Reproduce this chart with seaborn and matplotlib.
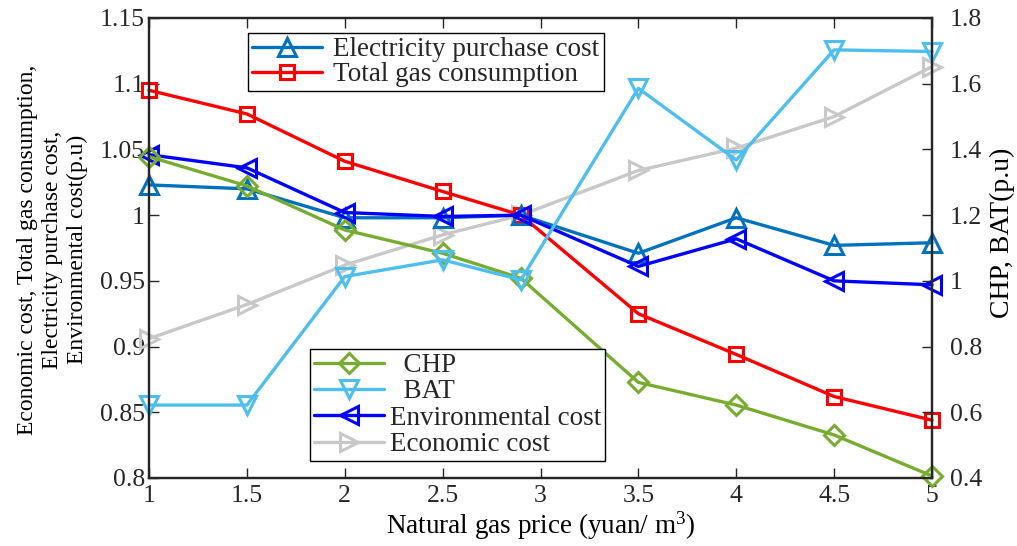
import numpy as np
import pandas as pd
import matplotlib
matplotlib.use("Agg")
import matplotlib.pyplot as plt
from matplotlib.ticker import FuncFormatter, FixedLocator
import seaborn as sns

# Natural gas price (yuan/m^3)
price = [1, 1.5, 2, 2.5, 2.9, 3.5, 4, 4.5, 5]

# Left-axis series (p.u)
electricity_cost = [1.023, 1.020, 0.998, 0.998, 1.000, 0.971, 0.998, 0.977, 0.979]
total_gas = [1.095, 1.077, 1.041, 1.018, 1.000, 0.925, 0.894, 0.862, 0.844]
environmental_cost = [1.046, 1.036, 1.002, 0.999, 1.000, 0.961, 0.982, 0.950, 0.947]
economic_cost = [0.906, 0.932, 0.962, 0.985, 1.000, 1.034, 1.051, 1.075, 1.113]

# Right-axis series (p.u)
chp = [1.378, 1.289, 1.155, 1.084, 1.008, 0.691, 0.622, 0.531, 0.406]
bat = [0.622, 0.622, 1.013, 1.064, 1.003, 1.586, 1.368, 1.703, 1.698]

x_ticks = [1, 1.5, 2, 2.5, 3, 3.5, 4, 4.5, 5]
left_ticks = [0.8, 0.85, 0.9, 0.95, 1.0, 1.05, 1.1, 1.15]
right_ticks = [0.4, 0.6, 0.8, 1.0, 1.2, 1.4, 1.6, 1.8]

sns.set_style("ticks")
plt.rcParams["font.family"] = ["Liberation Serif", "DejaVu Serif"]
plt.rcParams["mathtext.fontset"] = "custom"
plt.rcParams["mathtext.rm"] = "Liberation Serif"
plt.rcParams["mathtext.it"] = "Liberation Serif:italic"

TICK_FS = 18.5
LEG_FS = 19.5
INK = "#262626"

fig = plt.figure(figsize=(10.17, 5.46), dpi=100)
ax = fig.add_subplot(111)
fig.subplots_adjust(left=149 / 1017, right=932 / 1017, top=1 - 18 / 546, bottom=1 - 478 / 546)
ax2 = ax.twinx()


def draw(axis, values, color, marker, label, ms=12):
    return sns.lineplot(
        x=price, y=values, ax=axis, color=color, linewidth=2.4,
        marker=marker, markersize=ms, markerfacecolor="none",
        markeredgecolor=color, markeredgewidth=2.2, label=label,
        legend=False, clip_on=False,
    )


draw(ax, economic_cost, "#C8C8C8", ">", "Economic cost", ms=13)
draw(ax, total_gas, "#FF0000", "s", "Total gas consumption", ms=10)
draw(ax, electricity_cost, "#0072BD", "^", "Electricity purchase cost", ms=13)
draw(ax, environmental_cost, "#0000FF", "<", "Environmental cost", ms=13)
draw(ax2, chp, "#77AC30", "D", "CHP", ms=10.5)
draw(ax2, bat, "#4DBEEE", "v", "BAT", ms=13)

ax.set_xlim(1, 5)
ax.set_ylim(0.8, 1.15)
ax2.set_ylim(0.4, 1.8)

fmt = FuncFormatter(lambda v, p: f"{v:g}")
ax.xaxis.set_major_locator(FixedLocator(x_ticks))
ax.yaxis.set_major_locator(FixedLocator(left_ticks))
ax2.yaxis.set_major_locator(FixedLocator(right_ticks))
for a in (ax.xaxis, ax.yaxis, ax2.yaxis):
    a.set_major_formatter(fmt)

ax.tick_params(axis="x", direction="in", length=7, width=1, top=True,
               labelsize=TICK_FS, pad=5, colors=INK)
ax.tick_params(axis="y", direction="in", length=7, width=1,
               labelsize=TICK_FS, pad=3, colors=INK)
ax2.tick_params(axis="y", direction="in", length=7, width=1,
                labelsize=TICK_FS, pad=13, colors=INK)
for a in (ax, ax2):
    for s in a.spines.values():
        s.set_linewidth(1.6)
        s.set_color(INK)
        s.set_visible(True)

ax.set_xlabel(r"Natural gas price (yuan/ m$^{3}$)", fontsize=LEG_FS, labelpad=2, color="black")
ax.set_ylabel("Economic cost, Total gas consumption,\nElectricity purchase cost,\nEnvironmental cost(p.u)",
              fontsize=17, linespacing=1.25, color="black")
ax.yaxis.set_label_coords(-0.078, 0.496)
ax2.set_ylabel("CHP, BAT(p.u)", fontsize=20, color="black")
ax2.yaxis.set_label_coords(1.074, 0.533)

h1, l1 = ax.get_legend_handles_labels()
h2, l2 = ax2.get_legend_handles_labels()
handles = dict(zip(l1 + l2, h1 + h2))

top_names = ["Electricity purchase cost", "Total gas consumption"]
leg1 = ax2.legend([handles[n] for n in top_names], top_names,
                  loc="upper left", bbox_to_anchor=(248 / 1017, 1 - 33 / 546),
                  bbox_transform=fig.transFigure, fontsize=LEG_FS, frameon=True,
                  fancybox=False, edgecolor="black", framealpha=1,
                  borderpad=0.15, labelspacing=0.0, handlelength=2.6,
                  handletextpad=0.4, borderaxespad=0)
leg1.get_frame().set_linewidth(1.0)
ax2.add_artist(leg1)

bottom_names = ["CHP", "BAT", "Environmental cost", "Economic cost"]
leg2 = ax2.legend([handles[n] for n in bottom_names],
                  ["  CHP", "  BAT", "Environmental cost", "Economic cost"],
                  loc="upper left", bbox_to_anchor=(310 / 1017, 1 - 349 / 546),
                  bbox_transform=fig.transFigure, fontsize=LEG_FS, frameon=True,
                  fancybox=False, edgecolor="black", framealpha=1,
                  borderpad=0.15, labelspacing=0.05, handlelength=2.6,
                  handletextpad=0.2, borderaxespad=0)
leg2.get_frame().set_linewidth(1.0)

fig.savefig("out.png", dpi=100)
